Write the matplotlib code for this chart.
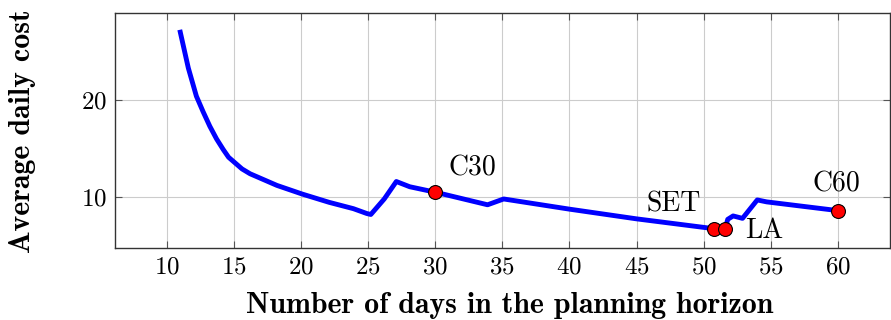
import matplotlib.pyplot as plt

plt.rcParams['font.family'] = 'cmr10'
plt.rcParams['axes.formatter.use_mathtext'] = True

# curve
days = [11, 11.6, 12.2, 12.7, 13.2, 13.7, 14.2, 14.6, 15.1, 15.6, 16.2, 17.2,
        18.2, 20.1, 22.1, 23.9, 24.9, 25.2, 26.2, 27.1, 28.1, 30, 32.1, 33.9,
        35.1, 40, 45, 50.4, 50.8, 51.6, 51.8, 52.2, 52.9, 54.0, 54.7, 60]
cost = [27.0, 23.3, 20.4, 18.8, 17.3, 16.0, 14.9, 14.1, 13.5, 12.9, 12.4, 11.8,
        11.2, 10.3, 9.45, 8.8, 8.3, 8.2, 9.8, 11.6, 11.06, 10.5, 9.8, 9.2,
        9.8, 8.75, 7.75, 6.8, 6.75, 6.7, 7.7, 8.05, 7.8, 9.7, 9.5, 8.6]

point_names = ['C30', 'SET', 'LA', 'C60']
point_x = [30, 50.8, 51.6, 60]
point_y = [10.5, 6.75, 6.7, 8.6]
label_x = [32.8, 47.8, 54.5, 59.9]
label_y = [13.0, 9.2, 6.5, 11.3]

fig = plt.figure(figsize=(8.91, 3.2), dpi=100)
ax = fig.add_axes([0.129, 0.224, 0.870, 0.736])

ax.plot(days, cost, color='blue', lw=3.5, solid_joinstyle='round', zorder=3)
ax.plot(point_x, point_y, 'o', color='red', mec='black', mew=0.8, ms=10, zorder=4)
for name, tx, ty in zip(point_names, label_x, label_y):
    ax.text(tx, ty, name, fontsize=20, ha='center', va='center')

ax.set_xlim(6.13, 63.9)
ax.set_ylim(4.71, 29.0)
ax.set_xticks(range(10, 61, 5))
ax.set_yticks([10, 20])
ax.tick_params(direction='in', top=True, right=True, length=5, width=0.8,
               color='#555555', labelsize=18, pad=6)
ax.grid(True, color='#cccccc', lw=0.8)
ax.set_axisbelow(True)
for s in ax.spines.values():
    s.set_color('#333333')
    s.set_linewidth(1.0)

fig.text(0.572, 0.044, 'Number of days in the planning horizon', fontsize=21.5,
         family='cmb10', ha='center', va='center')
fig.text(0.025, 0.59, 'Average daily cost', fontsize=21.5, family='cmb10',
         rotation=90, ha='center', va='center')

fig.savefig('out.png', dpi=100)
